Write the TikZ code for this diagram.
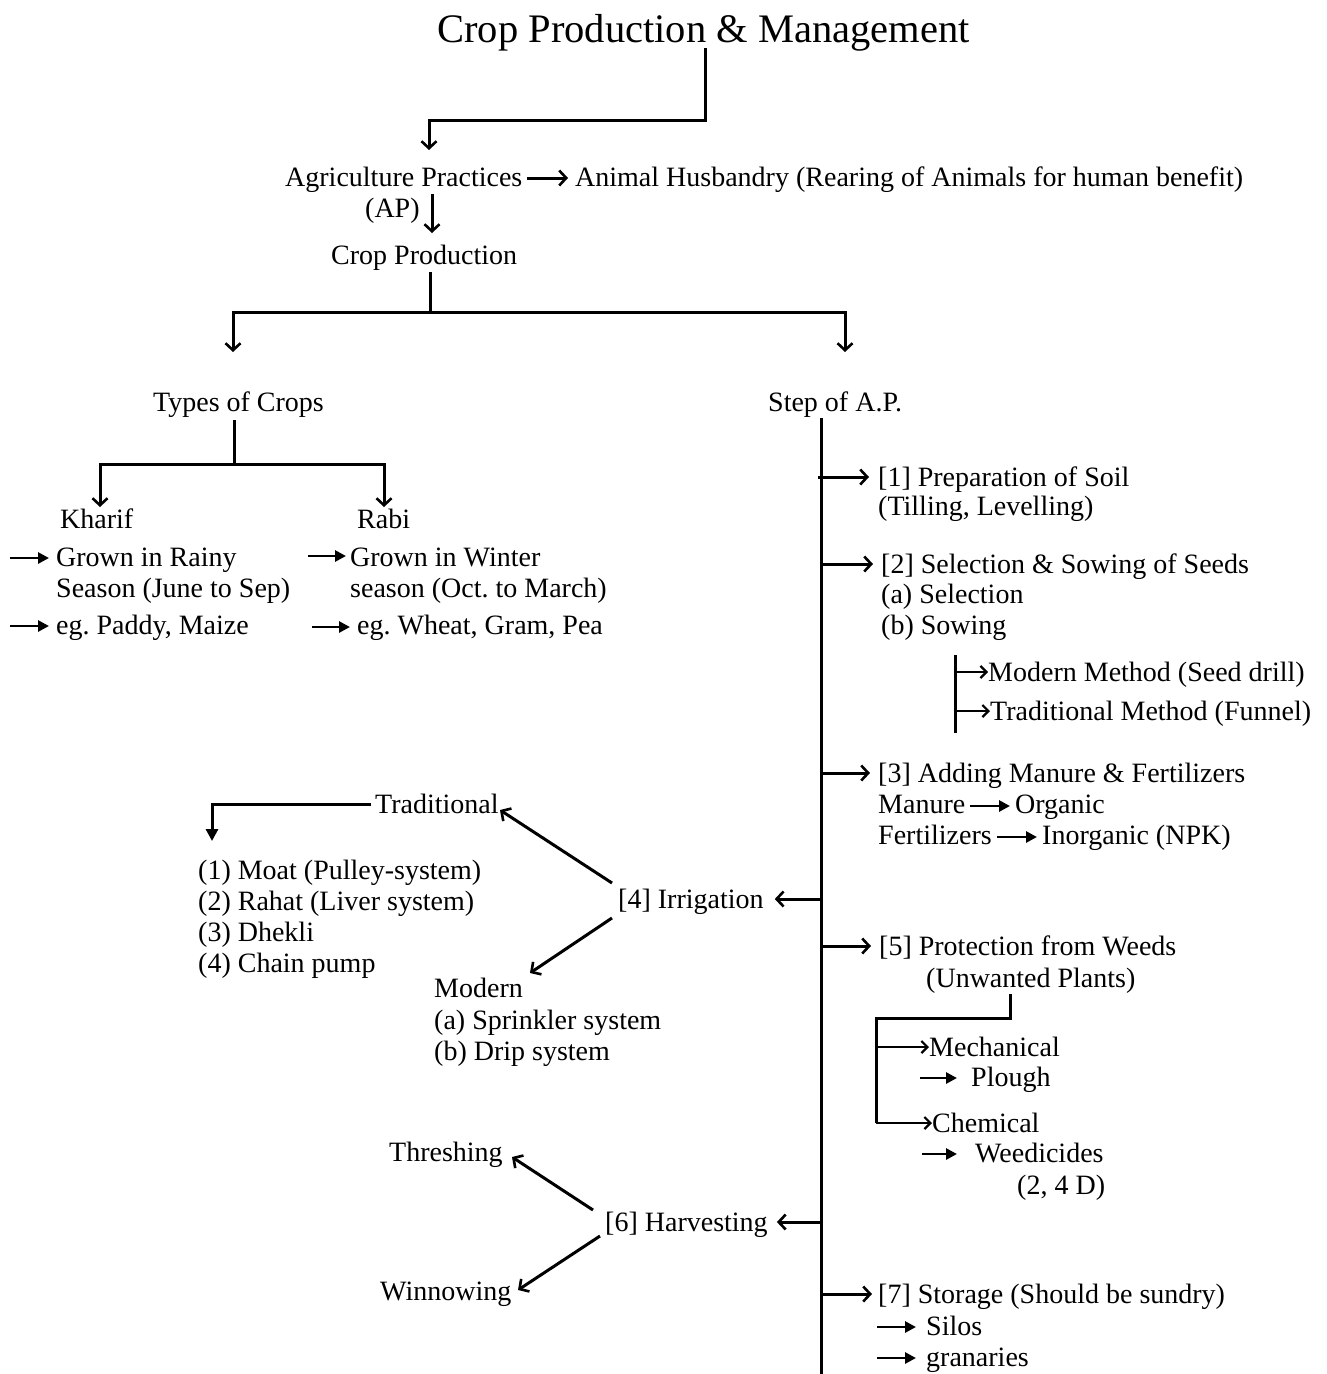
\documentclass[tikz,border=0pt]{standalone}
\usepackage{fontspec}
\setmainfont{Liberation Serif}
\usetikzlibrary{arrows.meta}
\frenchspacing
\begin{document}
\begin{tikzpicture}[x=1pt,y=-1pt,
  txt/.style={anchor=base west,inner sep=0pt,font=\fontsize{28}{32}\selectfont\frenchspacing},
  ln/.style={line width=3pt},
  oarr/.style={line width=3pt,-{Straight Barb[length=7pt,width=15pt,line width=2.6pt]}},
  tarr/.style={line width=2.5pt,-{Straight Barb[length=6pt,width=12pt,line width=2.2pt]}},
  farr/.style={line width=2.8pt,-{Triangle[length=11pt,width=11pt]}},
]
\useasboundingbox[fill=white] (0,0) rectangle (1326,1374);

% ---------- top ----------
\node[anchor=base,inner sep=0pt,font=\fontsize{40.5}{48}\selectfont] (title) at (703.5,42) {Crop Production \& Management};
\node[txt] (AP1) at (285,186) {Agriculture Practices};
\node[txt] (AP2) at (365,217) {(AP)};
\node[txt] (AH) at (575,186) {Animal Husbandry (Rearing of Animals for human benefit)};
\node[txt] (CP) at (331,264) {Crop Production};

\coordinate (t0) at (705,48);
\coordinate (j0) at (705,120);
\coordinate (a0) at (429,150);
\draw[oarr] (t0) -- (j0) -| (a0);
\coordinate (ah0) at (527,178);
\coordinate (ah1) at (568,178);
\draw[oarr] (ah0) -- (ah1);
\coordinate (cp0) at (432,194);
\coordinate (cp1) at (432,233);
\draw[oarr] (cp0) -- (cp1);

% ---------- split ----------
\node[txt] (TC) at (153,411) {Types of Crops};
\node[txt] (SAP) at (768,411) {Step of A.P.};
\coordinate (c0) at (430,272);
\coordinate (c1) at (430,312);
\coordinate (tc0) at (233,352);
\coordinate (sp0) at (845,352);
\draw[ln] (c0) -- (c1);
\draw[oarr] (c1) -| (tc0);
\draw[oarr] (c1) -| (sp0);

% ---------- types of crops ----------
\node[txt] (Kh) at (60,528) {Kharif};
\node[txt] (Ra) at (357,528) {Rabi};
\coordinate (k0) at (234,420);
\coordinate (k1) at (234,464);
\coordinate (kh0) at (100,507);
\coordinate (ra0) at (384,507);
\draw[ln] (k0) -- (k1);
\draw[oarr] (k1) -| (kh0);
\draw[oarr] (k1) -| (ra0);

\node[txt] (K1a) at (56,566) {Grown in Rainy};
\node[txt] (K1b) at (56,597) {Season (June to Sep)};
\node[txt] (K2) at (56,634) {eg. Paddy, Maize};
\node[txt] (R1a) at (350,566) {Grown in Winter};
\node[txt] (R1b) at (350,597) {season (Oct. to March)};
\node[txt] (R2) at (357,634) {eg. Wheat, Gram, Pea};
\coordinate (b1) at (10,558);
\coordinate (b2) at (10,626);
\coordinate (b3) at (308,556);
\coordinate (b4) at (312,627);
\draw[farr] (b1) -- ([xshift=-7pt]K1a.west |- b1);
\draw[farr] (b2) -- ([xshift=-7pt]K2.west |- b2);
\draw[farr] (b3) -- ([xshift=-4pt]R1a.west |- b3);
\draw[farr] (b4) -- ([xshift=-7pt]R2.west |- b4);

% ---------- spine ----------
\coordinate (s0) at (821,418);
\coordinate (s1) at (821,1374);
\draw[ln] (s0) -- (s1);

% [1]
\node[txt] (S1a) at (878,486) {[1] Preparation of Soil};
\node[txt] (S1b) at (878,515) {(Tilling, Levelling)};
\coordinate (p1) at (818,477);
\draw[oarr] (p1) -- ([xshift=-9pt]S1a.west |- p1);

% [2]
\node[txt] (S2a) at (881,573) {[2] Selection \& Sowing of Seeds};
\node[txt] (S2b) at (881,603) {(a) Selection};
\node[txt] (S2c) at (881,634) {(b) Sowing};
\coordinate (p2) at (821,564);
\draw[oarr] (p2) -- ([xshift=-8pt]S2a.west |- p2);
\node[txt] (MM) at (988,681) {Modern Method (Seed drill)};
\node[txt] (TM) at (990,720) {Traditional Method (Funnel)};
\coordinate (q0) at (955,655);
\coordinate (q1) at (955,733);
\coordinate (q2) at (955,672);
\coordinate (q3) at (955,711);
\draw[ln] (q0) -- (q1);
\draw[tarr] (q2) -- (MM.west |- q2);
\draw[tarr] (q3) -- (TM.west |- q3);

% [3]
\node[txt] (S3a) at (878,782) {[3] Adding Manure \& Fertilizers};
\node[txt] (Man) at (878,813) {Manure};
\node[txt] (Org) at (1015,813) {Organic};
\node[txt] (Fer) at (878,844) {Fertilizers};
\node[txt] (Inorg) at (1042,844) {Inorganic (NPK)};
\coordinate (p3) at (821,773);
\draw[oarr] (p3) -- ([xshift=-8pt]S3a.west |- p3);
\draw[farr] ([xshift=5pt]Man.east |- 0,806) -- ([xshift=-5pt]Org.west |- 0,806);
\draw[farr] ([xshift=5pt]Fer.east |- 0,837) -- ([xshift=-5pt]Inorg.west |- 0,837);

% [4]
\node[txt] (Irr) at (618,908) {[4] Irrigation};
\coordinate (p4) at (821,899);
\draw[oarr] (p4) -- ([xshift=11pt]Irr.east |- p4);
\node[txt] (Trad) at (375,813) {Traditional};
\node[txt] (T1) at (198,879) {(1) Moat (Pulley-system)};
\node[txt] (T2) at (198,910) {(2) Rahat (Liver system)};
\node[txt] (T3) at (198,941) {(3) Dhekli};
\node[txt] (T4) at (198,972) {(4) Chain pump};
\node[txt] (Mod) at (434,997) {Modern};
\node[txt] (M1) at (434,1029) {(a) Sprinkler system};
\node[txt] (M2) at (434,1060) {(b) Drip system};
\coordinate (i0) at (612,883);
\coordinate (i1) at (500,810);
\coordinate (i2) at (612,918);
\coordinate (i3) at (530,973);
\draw[oarr] (i0) -- (i1);
\draw[oarr] (i2) -- (i3);
\coordinate (tr0) at (371,804);
\coordinate (tr1) at (212,841);
\draw[line width=3pt,-{Triangle[length=12pt,width=12pt]}] (tr0) -| (tr1);

% [5]
\node[txt] (S5a) at (879,955) {[5] Protection from Weeds};
\node[txt] (S5b) at (926,987) {(Unwanted Plants)};
\coordinate (p5) at (821,946);
\draw[oarr] (p5) -- ([xshift=-8pt]S5a.west |- p5);
\coordinate (w0) at (1010,994);
\coordinate (w1) at (1010,1018);
\coordinate (w2) at (876,1018);
\coordinate (w3) at (876,1123);
\coordinate (w4) at (876,1047);
\draw[ln] (w0) -- (w1) -- (w2) -- (w3);
\node[txt] (Mech) at (929,1056) {Mechanical};
\node[txt] (Pl) at (971,1086) {Plough};
\node[txt] (Chem) at (932,1132) {Chemical};
\node[txt] (Weed) at (975,1162) {Weedicides};
\node[txt] (Wd2) at (1017,1194) {(2, 4 D)};
\draw[tarr] (w4) -- (Mech.west |- w4);
\draw[tarr] (w3) -- (Chem.west |- w3);
\coordinate (f1) at (920,1078);
\coordinate (f2) at (922,1154);
\draw[farr] (f1) -- ([xshift=-14pt]Pl.west |- f1);
\draw[farr] (f2) -- ([xshift=-18pt]Weed.west |- f2);

% [6]
\node[txt] (Harv) at (605,1231) {[6] Harvesting};
\coordinate (p6) at (821,1222);
\draw[oarr] (p6) -- ([xshift=9pt]Harv.east |- p6);
\node[txt] (Thr) at (389,1161) {Threshing};
\node[txt] (Win) at (380,1300) {Winnowing};
\coordinate (h0) at (593,1210);
\coordinate (h1) at (512,1157);
\coordinate (h2) at (600,1236);
\coordinate (h3) at (518,1290);
\draw[oarr] (h0) -- (h1);
\draw[oarr] (h2) -- (h3);

% [7]
\node[txt] (S7) at (878,1303) {[7] Storage (Should be sundry)};
\node[txt] (Sil) at (926,1335) {Silos};
\node[txt] (Gran) at (926,1366) {granaries};
\coordinate (p7) at (821,1294);
\draw[oarr] (p7) -- ([xshift=-6pt]S7.west |- p7);
\coordinate (g1) at (877,1327);
\coordinate (g2) at (877,1358);
\draw[farr] (g1) -- ([xshift=-10pt]Sil.west |- g1);
\draw[farr] (g2) -- ([xshift=-10pt]Gran.west |- g2);
\end{tikzpicture}
\end{document}
